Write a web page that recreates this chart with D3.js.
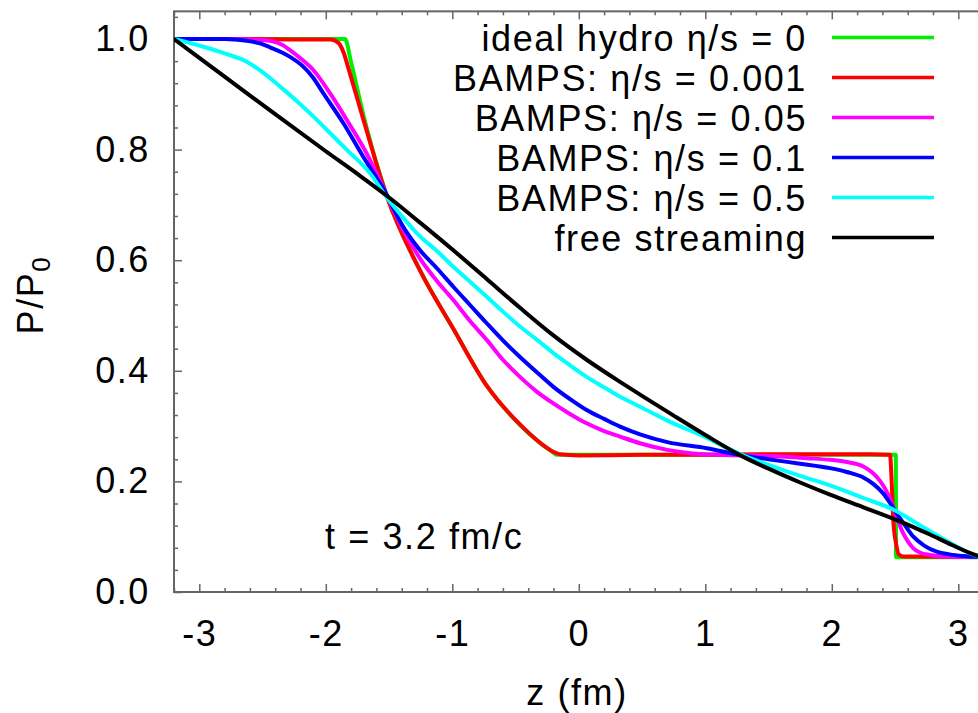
<!DOCTYPE html>
<html>
<head>
<meta charset="utf-8">
<script src="https://cdn.jsdelivr.net/npm/d3@7"></script>
<style>
  html, body { margin: 0; padding: 0; background: #fff; }
  svg { display: block; }
  text { font-family: "Liberation Sans", Arial, Helvetica, sans-serif; fill: #000; }
</style>
</head>
<body>
<svg id="chart" width="978" height="713"></svg>
<script>
// Pressure profiles P/P0 along z (fm) at t = 3.2 fm/c, each series as [z, P/P0] pairs.
const idealHydro = [
  [-3.2, 1.0], [-1.848, 1.0], [-1.80, 0.958], [-1.70, 0.86], [-1.52, 0.718],
  [-1.255, 0.582], [-0.992, 0.476], [-0.728, 0.373], [-0.465, 0.302], [-0.201, 0.252],
  [-0.175, 0.248], [2.506, 0.248], [2.508, 0.063], [3.2, 0.063]
];
const bampsEta0001 = [
  [-3.2, 1.0], [-2.6, 1.0], [-2.2, 0.999], [-1.96, 0.999], [-1.90, 0.993], [-1.86, 0.976],
  [-1.82, 0.946], [-1.70, 0.852], [-1.52, 0.717], [-1.255, 0.581], [-0.992, 0.476],
  [-0.728, 0.373], [-0.465, 0.303], [-0.22, 0.256], [-0.15, 0.249], [0.0, 0.247],
  [0.5, 0.248], [1.0, 0.248], [1.5, 0.249], [2.0, 0.249], [2.3, 0.249], [2.46, 0.248],
  [2.475, 0.19], [2.486, 0.13], [2.51, 0.085], [2.53, 0.068], [2.57, 0.064], [3.2, 0.063]
];
const bampsEta005 = [
  [-3.2, 1.0], [-2.8, 1.0], [-2.5, 0.998], [-2.35, 0.99], [-2.283, 0.98], [-2.2, 0.965],
  [-2.099, 0.944], [-1.967, 0.902], [-1.835, 0.854], [-1.677, 0.793], [-1.52, 0.718],
  [-1.40, 0.66], [-1.255, 0.603], [-1.12, 0.562], [-0.992, 0.528], [-0.86, 0.49],
  [-0.728, 0.456], [-0.60, 0.42], [-0.465, 0.389], [-0.33, 0.362], [-0.201, 0.341],
  [-0.07, 0.322], [0.062, 0.305], [0.20, 0.291], [0.326, 0.281], [0.484, 0.269],
  [0.70, 0.257], [0.88, 0.251], [1.10, 0.248], [1.30, 0.247], [1.60, 0.245], [1.80, 0.242],
  [1.986, 0.239], [2.12, 0.235], [2.249, 0.227], [2.32, 0.216], [2.381, 0.201], [2.44, 0.179],
  [2.486, 0.154], [2.52, 0.132], [2.552, 0.112], [2.60, 0.092], [2.645, 0.079],
  [2.70, 0.071], [2.776, 0.067], [2.90, 0.064], [3.2, 0.063]
];
const bampsEta01 = [
  [-3.2, 1.0], [-2.8, 1.0], [-2.625, 0.997], [-2.52, 0.992], [-2.441, 0.985], [-2.30, 0.97],
  [-2.178, 0.95], [-2.10, 0.93], [-2.02, 0.902], [-1.862, 0.848], [-1.704, 0.787],
  [-1.52, 0.719], [-1.40, 0.665], [-1.255, 0.618], [-1.12, 0.585], [-0.992, 0.552],
  [-0.86, 0.519], [-0.728, 0.486], [-0.60, 0.455], [-0.465, 0.425], [-0.33, 0.397],
  [-0.201, 0.371], [-0.07, 0.349], [0.062, 0.329], [0.20, 0.313], [0.326, 0.299],
  [0.484, 0.285], [0.70, 0.271], [1.011, 0.26], [1.27, 0.248], [1.50, 0.24], [1.75, 0.232],
  [1.986, 0.224], [2.12, 0.217], [2.249, 0.207], [2.33, 0.195], [2.407, 0.178],
  [2.46, 0.161], [2.513, 0.142], [2.58, 0.12], [2.645, 0.10], [2.73, 0.084],
  [2.829, 0.073], [2.93, 0.068], [3.04, 0.065], [3.2, 0.063]
];
const bampsEta05 = [
  [-3.2, 1.0], [-2.968, 0.986], [-2.80, 0.974], [-2.625, 0.959], [-2.50, 0.94],
  [-2.362, 0.914], [-2.23, 0.888], [-2.099, 0.86], [-1.967, 0.83], [-1.835, 0.80],
  [-1.65, 0.757], [-1.52, 0.714], [-1.40, 0.68], [-1.255, 0.643], [-1.123, 0.617],
  [-0.992, 0.588], [-0.86, 0.561], [-0.728, 0.534], [-0.60, 0.507], [-0.465, 0.48],
  [-0.33, 0.456], [-0.201, 0.432], [-0.07, 0.41], [0.062, 0.389], [0.20, 0.37],
  [0.326, 0.353], [0.484, 0.335], [0.70, 0.31], [1.0, 0.28], [1.27, 0.25], [1.50, 0.23],
  [1.75, 0.21], [1.986, 0.193], [2.25, 0.17], [2.513, 0.146], [2.65, 0.127],
  [2.776, 0.11], [2.95, 0.087], [3.145, 0.065], [3.2, 0.062]
];
const freeStreaming = [
  [-3.2, 1.0], [-2.8, 0.932], [-2.4, 0.864], [-2.0, 0.797], [-1.75, 0.756], [-1.52, 0.717],
  [-1.255, 0.668], [-0.992, 0.618], [-0.728, 0.566], [-0.465, 0.514], [-0.201, 0.464],
  [0.062, 0.42], [0.326, 0.38], [0.484, 0.357], [0.75, 0.319], [1.0, 0.284],
  [1.27, 0.248], [1.50, 0.223], [1.75, 0.198], [1.986, 0.176], [2.25, 0.153],
  [2.513, 0.13], [2.65, 0.117], [2.776, 0.104], [2.95, 0.085], [3.145, 0.066], [3.2, 0.062]
];

const legendLabels = [
  "ideal hydro \u03b7/s = 0",
  "BAMPS: \u03b7/s = 0.001",
  "BAMPS: \u03b7/s = 0.05",
  "BAMPS: \u03b7/s = 0.1",
  "BAMPS: \u03b7/s = 0.5",
  "free streaming"
];
const seriesColors = ["#00ee00", "#ff0000", "#ff00ff", "#0000ff", "#00ffff", "#000000"];
const xTicks = [-3, -2, -1, 0, 1, 2, 3];
const yTicks = [0, 0.2, 0.4, 0.6, 0.8, 1.0];
const xDomain = [-3.2, 3.2];
const yDomain = [0, 1.05];

const seriesData = [idealHydro, bampsEta0001, bampsEta005, bampsEta01, bampsEta05, freeStreaming];
const series = seriesData.map((data, i) => ({ data, label: legendLabels[i], color: seriesColors[i] }));

const svg = d3.select("#chart");
const plotLeft = 174, plotRight = 983.6, plotTop = 11.35, plotBottom = 592;
const x = d3.scaleLinear().domain(xDomain).range([plotLeft, plotRight]);
const y = d3.scaleLinear().domain(yDomain).range([plotBottom, plotTop]);

const axisColor = "#666";
const fontSize = 36;
const spacing = "1.6px";

// clip the curves to the frame
svg.append("defs").append("clipPath").attr("id", "plotClip")
  .append("rect").attr("x", plotLeft).attr("y", plotTop)
  .attr("width", plotRight - plotLeft).attr("height", plotBottom - plotTop);

// minor ticks: every 0.2 in z, every 0.04 in P/P0
const xMinor = d3.range(-16, 17).map(i => +(i * 0.2).toFixed(2)).filter(v => !xTicks.includes(v));
const yMinor = d3.range(0, 27).map(i => +(i * 0.04).toFixed(2))
  .filter(v => !yTicks.some(t => Math.abs(t - v) < 1e-6) && v <= 1.05);

function styleAxis(g) {
  g.select(".domain").remove();
  g.selectAll(".tick line").attr("stroke", axisColor).attr("stroke-width", 1.5);
  g.selectAll(".tick text")
    .attr("font-family", "\"Liberation Sans\", Arial, Helvetica, sans-serif")
    .attr("font-size", fontSize).attr("letter-spacing", spacing).attr("fill", "#000");
}

// bottom axis with labels
svg.append("g").attr("transform", `translate(0,${plotBottom})`)
  .call(d3.axisBottom(x).tickValues(xTicks).tickSize(-8).tickPadding(28).tickFormat(d => String(d)))
  .call(styleAxis);
svg.append("g").attr("transform", `translate(0,${plotBottom})`)
  .call(d3.axisBottom(x).tickValues(xMinor).tickSize(-4).tickFormat(""))
  .call(styleAxis);
// top axis, ticks only
svg.append("g").attr("transform", `translate(0,${plotTop})`)
  .call(d3.axisTop(x).tickValues(xTicks).tickSize(-8).tickFormat(""))
  .call(styleAxis);
svg.append("g").attr("transform", `translate(0,${plotTop})`)
  .call(d3.axisTop(x).tickValues(xMinor).tickSize(-4).tickFormat(""))
  .call(styleAxis);
// left axis with labels
svg.append("g").attr("transform", `translate(${plotLeft},0)`)
  .call(d3.axisLeft(y).tickValues(yTicks).tickSize(-8).tickPadding(24).tickFormat(d3.format(".1f")))
  .call(styleAxis);
svg.append("g").attr("transform", `translate(${plotLeft},0)`)
  .call(d3.axisLeft(y).tickValues(yMinor).tickSize(-4).tickFormat(""))
  .call(styleAxis);

// frame
svg.append("rect")
  .attr("x", plotLeft).attr("y", plotTop)
  .attr("width", plotRight - plotLeft).attr("height", plotBottom - plotTop)
  .attr("fill", "none").attr("stroke", axisColor).attr("stroke-width", 2);

// curves
const line = d3.line().x(d => x(d[0])).y(d => y(d[1])).curve(d3.curveMonotoneX);
svg.append("g").attr("clip-path", "url(#plotClip)")
  .selectAll("path").data(series).join("path")
  .attr("d", s => line(s.data))
  .attr("fill", "none")
  .attr("stroke", s => s.color)
  .attr("stroke-width", 4)
  .attr("stroke-linejoin", "round")
  .attr("stroke-linecap", "round");

// legend
const legend = svg.append("g");
const rows = legend.selectAll("g").data(series).join("g")
  .attr("transform", (s, i) => `translate(0,${37.5 + i * 40})`);
rows.append("text")
  .attr("x", 807).attr("y", 13)
  .attr("text-anchor", "end")
  .attr("font-size", fontSize).attr("letter-spacing", spacing)
  .text(s => s.label);
rows.append("line")
  .attr("x1", 832).attr("x2", 934).attr("y1", 0).attr("y2", 0)
  .attr("stroke", s => s.color).attr("stroke-width", 3.5);

// time annotation
svg.append("text")
  .attr("x", 325).attr("y", 549)
  .attr("font-size", fontSize).attr("letter-spacing", spacing)
  .text("t = 3.2 fm/c");

// axis titles
svg.append("text")
  .attr("x", 577).attr("y", 705)
  .attr("text-anchor", "middle")
  .attr("font-size", fontSize).attr("letter-spacing", spacing)
  .text("z (fm)");

const yTitle = svg.append("text")
  .attr("transform", "translate(43,295) rotate(-90)")
  .attr("text-anchor", "middle")
  .attr("font-size", fontSize).attr("letter-spacing", spacing);
yTitle.append("tspan").text("P/P");
yTitle.append("tspan").attr("font-size", 26).attr("dy", 7).text("0");
</script>
</body>
</html>
